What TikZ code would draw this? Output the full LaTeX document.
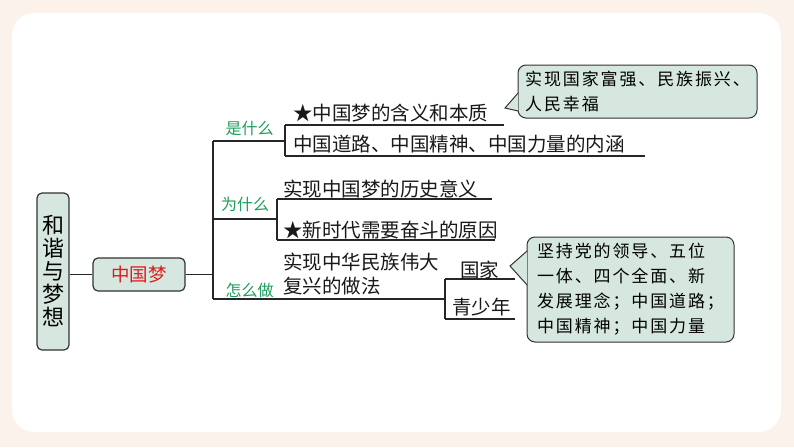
\documentclass[tikz,border=0pt]{standalone}
\usepackage{fontspec}
\setmainfont{Noto Sans CJK SC}
\newfontfamily\tipfont[LetterSpace=11]{Noto Sans CJK SC}
\usetikzlibrary{calc}
\definecolor{peach}{HTML}{FBF2EC}
\definecolor{mint}{HTML}{D5E7DF}
\definecolor{inkc}{HTML}{333333}
\definecolor{greenc}{HTML}{1E9E5C}
\definecolor{redc}{HTML}{E3191B}
\tikzset{
  box/.style={draw=inkc, fill=mint, line width=1.2pt, rounded corners=5pt, inner sep=0pt},
  item/.style={anchor=base west, inner sep=0pt, text=black!90, font=\fontsize{19.5}{22}\selectfont},
  tag/.style={text=greenc, inner sep=0pt, font=\fontsize{16}{18}\selectfont},
  bubble/.style={draw=inkc, fill=mint, line width=1pt, rounded corners=8pt, align=left,
    inner sep=0pt, font=\tipfont\fontsize{17}{25}\selectfont},
  wire/.style={line width=1.1pt, draw=black!85}
}

\begin{document}
\begin{tikzpicture}[x=1pt, y=-1pt]
% page and card
\fill[peach] (0,0) rectangle (794,447);
\fill[white, rounded corners=22pt] (12,13) rectangle (781,432);

% ---- root and centre ----
\node[box, minimum width=32pt, minimum height=157pt, align=center,
  font=\fontsize{22}{23}\selectfont] (theme) at (53,271.5) {和\\谐\\与\\梦\\想};
\node[box, minimum width=92pt, minimum height=33pt, text=redc,
  font=\fontsize{18.5}{20}\selectfont] (dream) at (139,274.5) {中国梦};
\draw[wire] (dream.west) -- (dream.west -| theme.east);

% ---- main bracket ----
\coordinate (fork) at (213,274.5);
\coordinate (q1) at (213,141);
\coordinate (q2) at (213,219);
\coordinate (q3) at (213,299);
\draw[wire] (dream.east) -- (fork);
\draw[wire] (q1) -- (q3);
\node[tag] (t1) at (249.5,128.5) {是什么};
\node[tag] (t2) at (245,204.5) {为什么};
\node[tag] (t3) at (249.5,290) {怎么做};

% ---- 是什么 ----
\coordinate (b1) at (285,141);
\coordinate (b1t) at (285,125);
\coordinate (b1b) at (285,156);
\coordinate (e1t) at (504,125);
\coordinate (e1b) at (645,156);
\draw[wire] (q1) -- (b1);
\draw[wire] (b1t) -- (b1b);
\draw[wire] (b1t) -- (e1t);
\draw[wire] (b1b) -- (e1b);
\node[item] (what1) at (293,120.5) {★中国梦的含义和本质};
\node[item] (what2) at (293,151) {中国道路、中国精神、中国力量的内涵};

% ---- 为什么 ----
\coordinate (b2) at (277,219);
\coordinate (b2t) at (277,199);
\coordinate (b2b) at (277,240);
\coordinate (e2t) at (492,199);
\coordinate (e2b) at (495,240);
\draw[wire] (q2) -- (b2);
\draw[wire] (b2t) -- (b2b);
\draw[wire] (b2t) -- (e2t);
\draw[wire] (b2b) -- (e2b);
\node[item] (why1) at (283,196.5) {实现中国梦的历史意义};
\node[item] (why2) at (283,237) {★新时代需要奋斗的原因};

% ---- 怎么做 ----
\coordinate (b3) at (445,299);
\coordinate (b3t) at (445,279);
\coordinate (b3b) at (445,319);
\coordinate (e3t) at (515,279);
\coordinate (e3b) at (515,319);
\draw[wire] (q3) -- (b3);
\draw[wire] (b3t) -- (b3b);
\draw[wire] (b3t) -- (e3t);
\draw[wire] (b3b) -- (e3b);
\node[item] (how1) at (283,269) {实现中华民族伟大};
\node[item] (how2) at (283,293) {复兴的做法};
\node[item] (nation) at (460,277.5) {国家};
\node[item] (youth) at (452,314) {青少年};

% ---- callouts ----
\node[bubble, minimum width=239pt, minimum height=53pt] (goal) at (637.5,91.5)
  {实现国家富强、民族振兴、\\人民幸福};
\coordinate (goaltip) at (505,108);
\filldraw[draw=inkc, fill=mint, line width=1pt]
  ($(goal.west)+(0.6,1.5)$) -- (goaltip) -- ($(goal.west)+(0.6,19.5)$);

\node[bubble, minimum width=207pt, minimum height=105pt] (means) at (630.5,289.5)
  {坚持党的领导、五位\\一体、四个全面、新\\发展理念；中国道路；\\中国精神；中国力量};
\coordinate (meanstip) at (510,266);
\filldraw[draw=inkc, fill=mint, line width=1pt]
  ($(means.west)+(0.6,-38.5)$) -- (meanstip) -- ($(means.west)+(0.6,-4.5)$);
\end{tikzpicture}
\end{document}
